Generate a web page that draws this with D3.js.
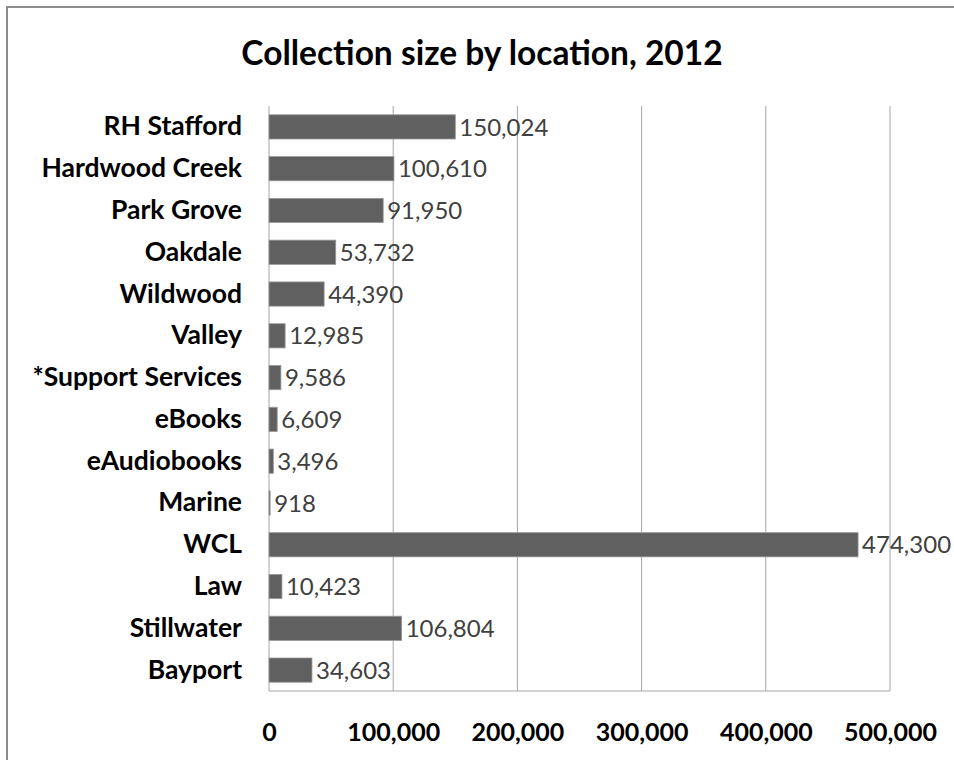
<!DOCTYPE html>
<html>
<head>
<meta charset="utf-8">
<script src="https://cdn.jsdelivr.net/npm/d3@7"></script>
<style>
  html, body { margin: 0; padding: 0; background: #fff; }
  svg { display: block; }
</style>
</head>
<body>
<script>
// Collection size by library location, 2012
const locations = [
  "RH Stafford", "Hardwood Creek", "Park Grove", "Oakdale", "Wildwood",
  "Valley", "*Support Services", "eBooks", "eAudiobooks", "Marine",
  "WCL", "Law", "Stillwater", "Bayport"
];
const collectionSize = [
  150024, 100610, 91950, 53732, 44390,
  12985, 9586, 6609, 3496, 918,
  474300, 10423, 106804, 34603
];
const xTicks = [0, 100000, 200000, 300000, 400000, 500000];
const chartTitle = "Collection size by location, 2012";

const W = 954, H = 760;
const margin = { top: 106, right: 64, bottom: 69, left: 269 };
const font = "Lato, 'Open Sans', sans-serif";

const svg = d3.select("body").append("svg")
  .attr("width", W).attr("height", H);

// outer chart frame
svg.append("rect")
  .attr("x", 7).attr("y", 7)
  .attr("width", W).attr("height", H)
  .attr("fill", "none")
  .attr("stroke", "#8c8c8c")
  .attr("stroke-width", 2);

svg.append("text")
  .attr("x", 482).attr("y", 65)
  .attr("text-anchor", "middle")
  .attr("font-family", font)
  .attr("font-weight", "bold")
  .attr("font-size", 33.5)
  .attr("fill", "#000")
  .text(chartTitle);

const x = d3.scaleLinear()
  .domain([0, 500000])
  .range([margin.left, W - margin.right]);

const y = d3.scaleBand()
  .domain(locations)
  .range([margin.top, H - margin.bottom])
  .paddingInner(0.42)
  .paddingOuter(0.21);

const data = locations.map((name, i) => ({ name, value: collectionSize[i] }));

// vertical gridlines
svg.append("g")
  .selectAll("line")
  .data(xTicks)
  .join("line")
  .attr("x1", d => x(d)).attr("x2", d => x(d))
  .attr("y1", margin.top).attr("y2", H - margin.bottom)
  .attr("stroke", "#a6a6a6")
  .attr("stroke-width", 1);

// bottom axis line
svg.append("line")
  .attr("x1", x(0)).attr("x2", x(500000))
  .attr("y1", H - margin.bottom).attr("y2", H - margin.bottom)
  .attr("stroke", "#a6a6a6");

// x axis tick labels
const xAxis = d3.axisBottom(x)
  .tickValues(xTicks)
  .tickFormat(d3.format(","))
  .tickSize(0)
  .tickPadding(32);

const gx = svg.append("g")
  .attr("transform", `translate(0,${H - margin.bottom})`)
  .call(xAxis);
gx.select(".domain").remove();
gx.selectAll("text")
  .attr("font-family", font)
  .attr("font-weight", "bold")
  .attr("font-size", 25)
  .attr("fill", "#000");

// category labels
const yAxis = d3.axisLeft(y).tickSize(0).tickPadding(27);
const gy = svg.append("g")
  .attr("transform", `translate(${margin.left},0)`)
  .call(yAxis);
gy.select(".domain").remove();
gy.selectAll("text")
  .attr("font-family", font)
  .attr("font-weight", "bold")
  .attr("font-size", 26.5)
  .attr("fill", "#000");

// bars
svg.append("g")
  .selectAll("rect")
  .data(data)
  .join("rect")
  .attr("x", x(0))
  .attr("y", d => y(d.name))
  .attr("width", d => x(d.value) - x(0))
  .attr("height", y.bandwidth())
  .attr("fill", "#606060")
  .attr("stroke", "#9a9a9a")
  .attr("stroke-width", 0.8);

// value labels
svg.append("g")
  .selectAll("text")
  .data(data)
  .join("text")
  .attr("x", d => x(d.value) + 4)
  .attr("y", d => y(d.name) + y.bandwidth() / 2)
  .attr("dy", "0.36em")
  .attr("font-family", font)
  .attr("font-size", 24)
  .attr("fill", "#404040")
  .text(d => d3.format(",")(d.value));
</script>
</body>
</html>
